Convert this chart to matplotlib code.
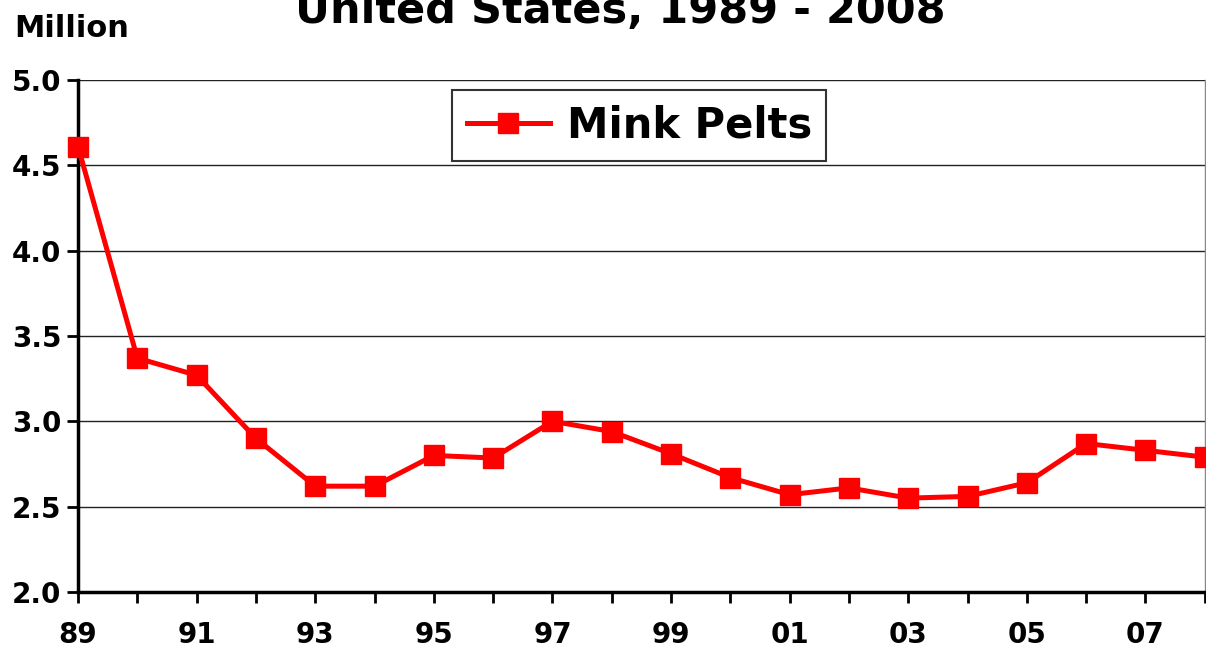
import matplotlib
matplotlib.use('Agg')
import matplotlib.pyplot as plt
from matplotlib.ticker import MultipleLocator

plt.rcParams['font.family'] = ['DejaVu Sans']
plt.rcParams['font.weight'] = 'bold'

years = list(range(1989, 2009))
pelts = [4.61, 3.37, 3.27, 2.90, 2.62, 2.62, 2.80, 2.785, 3.00, 2.94,
         2.81, 2.67, 2.57, 2.61, 2.55, 2.56, 2.64, 2.87, 2.83, 2.79]
tick_years = list(range(1989, 2008, 2))
tick_labels = ['%02d' % (y % 100) for y in tick_years]

fig = plt.figure(figsize=(12.06, 6.55), dpi=100)
ax = fig.add_axes([0.0647, 0.0962, 0.9343, 0.7817])

ax.plot(years, pelts, '-s', color='#ff0000', lw=3.6, ms=14,
        label='Mink Pelts', clip_on=False, zorder=5)

ax.set_xlim(1989, 2008)
ax.set_ylim(2.0, 5.0)
ax.yaxis.set_major_locator(MultipleLocator(0.5))
ax.yaxis.set_major_formatter(plt.FuncFormatter(lambda v, p: '%.1f' % v))
ax.set_xticks(years, minor=True)
ax.set_xticks(tick_years)
ax.set_xticklabels(tick_labels)
ax.grid(True, axis='y', color='#222222', lw=1)
ax.set_axisbelow(True)

for s in ['left', 'bottom']:
    ax.spines[s].set_linewidth(2.5)
ax.spines['top'].set_visible(False)
ax.spines['right'].set_color('#888888')
ax.spines['right'].set_linewidth(1)

ax.tick_params(axis='y', labelsize=20, length=8, width=2, pad=4)
ax.tick_params(axis='x', which='both', labelsize=20, length=8, width=2, pad=13)

leg = ax.legend(loc='upper center', bbox_to_anchor=(0.498, 0.98),
                frameon=True, fancybox=False, edgecolor='black',
                handlelength=2.0, handletextpad=0.4, borderpad=0.35,
                borderaxespad=0, prop={'weight': 'bold', 'size': 30})
leg.get_frame().set_linewidth(1.5)

fig.text(0.514, 0.965, 'United States, 1989 - 2008', ha='center', va='baseline',
         fontsize=31, fontweight='bold')
fig.text(0.012, 0.944, 'Million', ha='left', va='baseline',
         fontsize=22, fontweight='bold')

fig.savefig('out.png', dpi=100)
